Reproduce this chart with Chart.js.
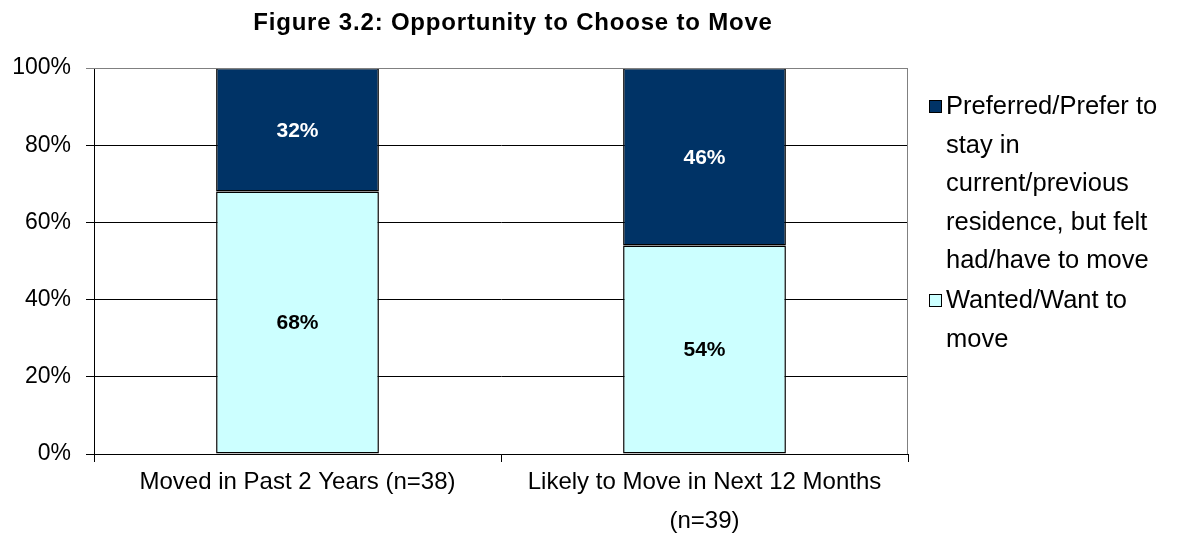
<!DOCTYPE html>
<html lang="en">
<head>
    <meta charset="UTF-8">
    <title>Figure 3.2</title>
    <script src="https://cdn.jsdelivr.net/npm/chart.js"></script>
    <style>
        html, body { margin: 0; padding: 0; background: #fff; }
        #wrap { width: 1178px; height: 535px; position: relative; }
    </style>
</head>
<body>
    <div id="wrap"><canvas id="myChart"></canvas></div>

    <script>
        // chart data
        const titleText = 'Figure 3.2: Opportunity to Choose to Move';
        const categories = [
            ['Moved in Past 2 Years (n=38)'],
            ['Likely to Move in Next 12 Months', '(n=39)']
        ];
        const wantedValues = [68, 54];
        const preferredValues = [32, 46];
        const wantedLabel = ['Wanted/Want to', 'move'];
        const preferredLabel = ['Preferred/Prefer to', 'stay in', 'current/previous', 'residence, but felt', 'had/have to move'];
        const yTicks = [0, 20, 40, 60, 80, 100];

        const FONT = 'Arial, "Liberation Sans", sans-serif';

        // title, plot border, segment labels and legend drawn by hand
        const extras = {
            id: 'extras',
            afterDraw(chart) {
                const ctx = chart.ctx;
                const area = chart.chartArea;
                ctx.save();

                // gray border on top / right of plot area
                ctx.strokeStyle = '#808080';
                ctx.lineWidth = 1;
                ctx.beginPath();
                ctx.moveTo(area.left, area.top + 0.5);
                ctx.lineTo(area.right - 0.5, area.top + 0.5);
                ctx.lineTo(area.right - 0.5, area.bottom);
                ctx.stroke();

                // title
                ctx.fillStyle = '#000';
                ctx.font = 'bold 24px ' + FONT;
                ctx.letterSpacing = '0.8px';
                ctx.textAlign = 'center';
                ctx.textBaseline = 'middle';
                ctx.fillText(titleText, 513, 23);
                ctx.letterSpacing = '0px';

                // value labels
                ctx.font = 'bold 21px ' + FONT;
                chart.data.datasets.forEach((ds, di) => {
                    const meta = chart.getDatasetMeta(di);
                    meta.data.forEach((bar, i) => {
                        const mid = (bar.y + bar.base) / 2;
                        ctx.fillStyle = di === 1 ? '#fff' : '#000';
                        ctx.fillText(ds.data[i] + '%', bar.x, mid + 1);
                    });
                });

                // legend
                ctx.textAlign = 'left';
                ctx.textBaseline = 'middle';
                ctx.font = '25.5px ' + FONT;
                const items = [
                    { lines: preferredLabel, color: chart.data.datasets[1].backgroundColor, y: 107 },
                    { lines: wantedLabel, color: chart.data.datasets[0].backgroundColor, y: 301 }
                ];
                items.forEach(it => {
                    ctx.fillStyle = it.color;
                    ctx.fillRect(929, it.y - 7, 13, 13);
                    ctx.strokeStyle = '#000';
                    ctx.lineWidth = 1;
                    ctx.strokeRect(929.5, it.y - 6.5, 12, 12);
                    ctx.fillStyle = '#000';
                    it.lines.forEach((ln, k) => {
                        ctx.fillText(ln, 946, it.y + k * 38.6);
                    });
                });
                ctx.restore();
            }
        };

        const ctx = document.getElementById('myChart').getContext('2d');
        new Chart(ctx, {
            type: 'bar',
            data: {
                labels: categories,
                datasets: [
                    {
                        label: wantedLabel.join(' '),
                        data: wantedValues,
                        backgroundColor: '#CCFFFF',
                        borderColor: '#000',
                        borderWidth: 1.5,
                        borderSkipped: false,
                        categoryPercentage: 1,
                        barPercentage: 0.4
                    },
                    {
                        label: preferredLabel.join(' '),
                        data: preferredValues,
                        backgroundColor: '#003366',
                        borderColor: '#000',
                        borderWidth: 1.5,
                        borderSkipped: false,
                        categoryPercentage: 1,
                        barPercentage: 0.4
                    }
                ]
            },
            options: {
                responsive: true,
                maintainAspectRatio: false,
                animation: false,
                layout: { padding: { left: 0, right: 270, top: 68, bottom: 0 } },
                plugins: {
                    legend: { display: false },
                    tooltip: { enabled: false }
                },
                scales: {
                    x: {
                        stacked: true,
                        offset: true,
                        afterFit: (s) => { s.height = 81; },
                        grid: {
                            offset: true,
                            drawOnChartArea: false,
                            drawTicks: true,
                            tickLength: 8,
                            color: '#000'
                        },
                        border: { color: '#000', width: 1 },
                        ticks: {
                            color: '#000',
                            font: { size: 24, family: FONT, lineHeight: 1.63 },
                            padding: 1,
                            maxRotation: 0
                        }
                    },
                    y: {
                        stacked: true,
                        min: 0,
                        max: 100,
                        afterFit: (s) => { s.width = 94; },
                        afterBuildTicks: (s) => { s.ticks = yTicks.map(v => ({ value: v })); },
                        grid: {
                            color: (c) => c.tick && c.tick.value === 100 ? '#808080' : '#000',
                            drawTicks: true,
                            tickLength: 8
                        },
                        border: { color: '#000', width: 1 },
                        ticks: {
                            color: '#000',
                            font: { size: 23, family: FONT },
                            padding: 15,
                            callback: (v) => v + '%'
                        }
                    }
                }
            },
            plugins: [extras]
        });
    </script>
</body>
</html>
